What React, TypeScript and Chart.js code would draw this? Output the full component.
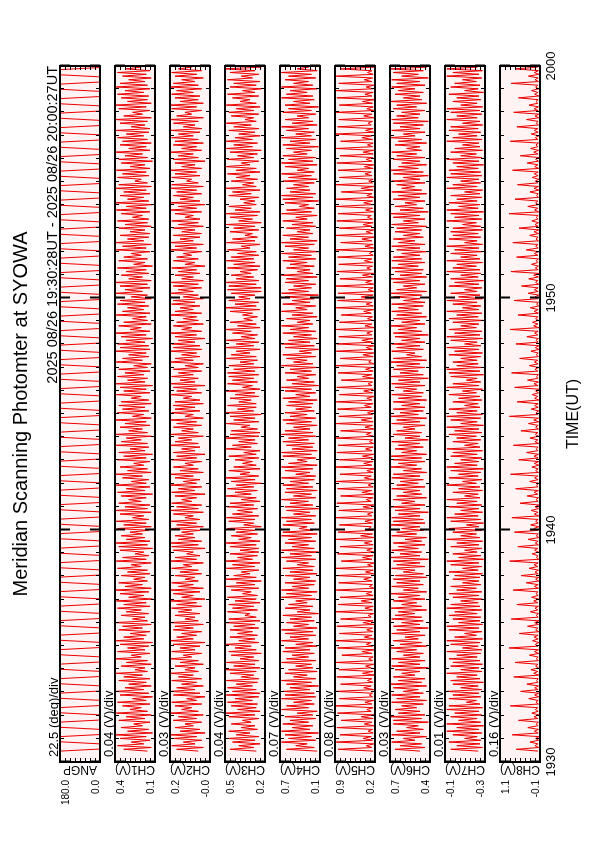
import React, { useEffect, useRef } from "react";
import { Chart, registerables } from "chart.js";
Chart.register(...registerables);

// ---------------- data ----------------
const titleText = "Meridian Scanning Photomter at SYOWA";
const subtitleText = "2025 08/26 19:30:28UT - 2025 08/26 20:00:27UT";
const timeAxisTitle = "TIME(UT)";
const timeTickLabels = ["1930", "1940", "1950", "2000"];
const timeTickMinutes = [0, 10, 20, 30];
const axisStartMin = 0;
const axisEndMin = 30;
const firstScanMin = 0.47; // 19:30:28
const halfScanMin = 0.3125; // one meridian sweep of the scanner
const sweepMin = 0.09; // duration of the moving part of a sweep
const sampleStepMin = 0.078; // photometer sample spacing

const channelNames = ["ANGP", "CH1(V)", "CH2(V)", "CH3(V)", "CH4(V)", "CH5(V)", "CH6(V)", "CH7(V)", "CH8(V)"];
const divLabels = ["22.5 (deg)/div", "0.04 (V)/div", "0.03 (V)/div", "0.04 (V)/div", "0.07 (V)/div", "0.08 (V)/div", "0.03 (V)/div", "0.01 (V)/div", "0.16 (V)/div"];
const yMins = [0, 0.08, -0.04, 0.18, 0.14, 0.22, 0.42, -0.252, -0.14];
const yMaxs = [180, 0.4, 0.2, 0.5, 0.7, 0.86, 0.66, -0.14, 1.14];
const yTopLabels = ["180.0", "0.4", "0.2", "0.5", "0.7", "0.9", "0.7", "-0.1", "1.1"];
const yBottomLabels = ["0.0", "0.1", "-0.0", "0.2", "0.1", "0.2", "0.4", "-0.3", "-0.1"];

// scan angle: [start, end] of every sweep (deg)
const angp = [
180,0,0,180,180,0,0,180,180,0,0,180,180,0,0,180,
180,0,0,180,180,0,0,180,180,0,0,180,180,0,0,180,
180,0,0,180,180,0,0,180,180,0,0,180,180,0,0,180,
180,0,0,180,180,0,0,180,180,0,0,180,180,0,0,180,
180,0,0,180,180,0,0,180,180,0,0,180,180,0,0,180,
180,0,0,180,180,0,0,180,180,0,0,180,180,0,0,180,
180,0,0,180,180,0,0,180,180,0,0,180,180,0,0,180,
180,0,0,180,180,0,0,180,180,0,0,180,180,0,0,180,
180,0,0,180,180,0,0,180,180,0,0,180,180,0,0,180,
180,0,0,180,180,0,0,180,180,0,0,180,180,0,0,180,
180,0,0,180,180,0,0,180,180,0,0,180,180,0,0,180,
180,0,0,180,180,0,0,180,180,0,0,180,180,0,0,180];

// photometer channels (V), one sample every sampleStepMin
const ch1 = [
0.14,0.33,0.11,0.38,0.17,0.27,0.12,0.36,0.15,0.40,0.10,0.30,0.13,0.35,0.18,0.25,
0.12,0.37,0.16,0.31,0.11,0.39,0.14,0.28,0.19,0.34,0.12,0.38,0.15,0.26,0.10,0.36,
0.13,0.40,0.17,0.32,0.11,0.29,0.15,0.37,0.12,0.33,0.18,0.39,0.14,0.24,0.16,0.35,
0.11,0.31,0.14,0.40,0.19,0.27,0.12,0.38,0.16,0.30,0.13,0.36,0.10,0.39,0.17,0.33,
0.15,0.28,0.12,0.37,0.18,0.34,0.11,0.40,0.14,0.26,0.16,0.35,0.13,0.31,0.19,0.38,
0.12,0.33,0.15,0.39,0.10,0.29,0.17,0.36,0.13,0.40,0.11,0.32,0.18,0.37,0.14,0.25,
0.16,0.35,0.12,0.30,0.14,0.38,0.19,0.27,0.11,0.39,0.15,0.34,0.13,0.24,0.17,0.36,
0.10,0.37,0.14,0.40,0.12,0.31,0.16,0.35,0.18,0.28,0.13,0.38,0.11,0.33,0.15,0.39,
0.13,0.26,0.17,0.36,0.11,0.40,0.14,0.32,0.12,0.37,0.19,0.29,0.15,0.35,0.10,0.38,
0.16,0.31,0.12,0.39,0.15,0.27,0.13,0.34,0.18,0.40,0.11,0.30,0.14,0.36,0.17,0.25,
0.12,0.38,0.15,0.33,0.10,0.37,0.16,0.28,0.13,0.39,0.14,0.35,0.19,0.31,0.11,0.40,
0.14,0.29,0.18,0.36,0.12,0.32,0.15,0.40,0.11,0.26,0.17,0.38,0.13,0.34,0.16,0.37,
0.11,0.35,0.13,0.27,0.19,0.39,0.12,0.33,0.15,0.36,0.10,0.40,0.16,0.30,0.14,0.38,
0.17,0.32,0.12,0.37,0.14,0.25,0.11,0.39,0.18,0.34,0.13,0.29,0.15,0.40,0.12,0.36,
0.13,0.38,0.16,0.31,0.10,0.35,0.15,0.40,0.12,0.28,0.19,0.37,0.11,0.33,0.14,0.26,
0.15,0.39,0.12,0.34,0.17,0.30,0.13,0.38,0.16,0.36,0.11,0.27,0.14,0.40,0.18,0.32,
0.12,0.36,0.14,0.40,0.11,0.29,0.18,0.35,0.13,0.31,0.15,0.38,0.10,0.25,0.16,0.37,
0.14,0.33,0.19,0.27,0.12,0.39,0.15,0.34,0.11,0.40,0.17,0.30,0.13,0.36,0.12,0.28,
0.16,0.37,0.11,0.32,0.14,0.38,0.13,0.26,0.18,0.35,0.12,0.39,0.15,0.31,0.10,0.40,
0.13,0.30,0.17,0.36,0.12,0.33,0.15,0.40,0.11,0.37,0.14,0.24,0.19,0.38,0.13,0.34,
0.15,0.39,0.12,0.28,0.16,0.35,0.10,0.37,0.14,0.32,0.18,0.40,0.12,0.29,0.15,0.36,
0.11,0.34,0.14,0.38,0.17,0.31,0.13,0.39,0.12,0.27,0.16,0.36,0.14,0.40,0.11,0.33,
0.18,0.26,0.12,0.37,0.15,0.40,0.11,0.30,0.14,0.35,0.13,0.38,0.17,0.32,0.12,0.39,
0.14,0.36,0.16,0.29,0.11,0.34,0.15,0.38,0.12,0.31,0.19,0.37,0.13,0.27,0.15,0.35];

const ch2 = [
0.03,0.16,0.00,0.19,0.05,0.12,0.01,0.18,0.04,0.20,-0.01,0.14,0.02,0.17,0.06,0.11,
0.01,0.18,0.04,0.15,0.00,0.20,0.03,0.13,0.07,0.17,0.01,0.19,0.04,0.10,-0.01,0.18,
0.02,0.20,0.05,0.16,0.00,0.13,0.04,0.19,0.01,0.15,0.06,0.20,0.03,0.11,0.05,0.17,
0.00,0.14,0.03,0.20,0.07,0.12,0.01,0.19,0.05,0.14,0.02,0.18,-0.01,0.20,0.06,0.16,
0.04,0.13,0.01,0.18,0.06,0.17,0.00,0.20,0.03,0.11,0.05,0.17,0.02,0.15,0.07,0.19,
0.01,0.16,0.04,0.20,-0.01,0.13,0.06,0.18,0.02,0.20,0.00,0.15,0.06,0.19,0.03,0.11,
0.05,0.17,0.01,0.14,0.03,0.19,0.07,0.12,0.00,0.20,0.04,0.17,0.02,0.10,0.06,0.18,
-0.01,0.19,0.03,0.20,0.01,0.15,0.05,0.17,0.06,0.13,0.02,0.19,0.00,0.16,0.04,0.20,
0.02,0.11,0.06,0.18,0.00,0.20,0.03,0.16,0.01,0.19,0.07,0.13,0.04,0.17,-0.01,0.19,
0.05,0.15,0.01,0.20,0.04,0.12,0.02,0.17,0.06,0.20,0.00,0.14,0.03,0.18,0.06,0.11,
0.01,0.19,0.04,0.16,-0.01,0.18,0.05,0.13,0.02,0.20,0.03,0.17,0.07,0.15,0.00,0.20,
0.03,0.13,0.06,0.18,0.01,0.16,0.04,0.20,0.00,0.11,0.06,0.19,0.02,0.17,0.05,0.18,
0.00,0.17,0.02,0.12,0.07,0.20,0.01,0.16,0.04,0.18,-0.01,0.20,0.05,0.14,0.03,0.19,
0.06,0.15,0.01,0.18,0.03,0.11,0.00,0.20,0.06,0.17,0.02,0.13,0.04,0.20,0.01,0.18,
0.02,0.19,0.05,0.15,-0.01,0.17,0.04,0.20,0.01,0.13,0.07,0.18,0.00,0.16,0.03,0.12,
0.04,0.20,0.01,0.17,0.06,0.14,0.02,0.19,0.05,0.18,0.00,0.12,0.03,0.20,0.06,0.15,
0.01,0.18,0.03,0.20,0.00,0.13,0.06,0.17,0.02,0.15,0.04,0.19,-0.01,0.11,0.05,0.18,
0.03,0.16,0.07,0.12,0.01,0.20,0.04,0.17,0.00,0.20,0.06,0.14,0.02,0.18,0.01,0.13,
0.05,0.18,0.00,0.15,0.03,0.19,0.02,0.11,0.06,0.17,0.01,0.20,0.04,0.15,-0.01,0.20,
0.02,0.14,0.06,0.18,0.01,0.16,0.04,0.20,0.00,0.19,0.03,0.10,0.07,0.19,0.02,0.17,
0.04,0.20,0.01,0.13,0.05,0.17,-0.01,0.18,0.03,0.15,0.06,0.20,0.01,0.13,0.04,0.18,
0.00,0.17,0.03,0.19,0.06,0.15,0.02,0.20,0.01,0.12,0.05,0.18,0.03,0.20,0.00,0.16,
0.07,0.11,0.01,0.19,0.04,0.20,0.00,0.14,0.03,0.17,0.02,0.19,0.06,0.16,0.01,0.20,
0.03,0.18,0.05,0.13,0.00,0.17,0.04,0.19,0.01,0.15,0.07,0.18,0.02,0.12,0.04,0.17];

const ch3 = [
0.25,0.46,0.27,0.39,0.22,0.44,0.26,0.48,0.23,0.41,0.30,0.47,0.24,0.37,0.26,0.45,
0.29,0.36,0.23,0.47,0.26,0.50,0.22,0.40,0.25,0.45,0.24,0.48,0.28,0.42,0.23,0.49,
0.22,0.44,0.25,0.48,0.28,0.41,0.24,0.49,0.23,0.37,0.27,0.46,0.25,0.50,0.22,0.43,
0.26,0.49,0.23,0.38,0.27,0.45,0.21,0.47,0.25,0.42,0.29,0.50,0.23,0.39,0.26,0.46,
0.24,0.40,0.28,0.46,0.23,0.43,0.26,0.50,0.22,0.47,0.25,0.34,0.30,0.48,0.24,0.44,
0.27,0.47,0.22,0.42,0.25,0.48,0.24,0.36,0.29,0.45,0.23,0.49,0.26,0.41,0.21,0.50,
0.25,0.43,0.30,0.37,0.23,0.49,0.26,0.44,0.22,0.50,0.28,0.40,0.24,0.46,0.23,0.38,
0.23,0.46,0.25,0.50,0.22,0.39,0.29,0.45,0.24,0.41,0.26,0.48,0.21,0.35,0.27,0.47,
0.26,0.49,0.23,0.44,0.28,0.40,0.24,0.48,0.27,0.46,0.22,0.37,0.25,0.50,0.29,0.42,
0.24,0.48,0.27,0.41,0.21,0.45,0.26,0.50,0.23,0.38,0.30,0.47,0.22,0.43,0.25,0.36,
0.28,0.42,0.23,0.47,0.25,0.35,0.22,0.49,0.29,0.44,0.24,0.39,0.26,0.50,0.23,0.46,
0.22,0.45,0.24,0.37,0.30,0.49,0.23,0.43,0.26,0.46,0.21,0.50,0.27,0.40,0.25,0.48,
0.25,0.39,0.29,0.46,0.23,0.42,0.26,0.50,0.22,0.36,0.28,0.48,0.24,0.44,0.27,0.47,
0.23,0.48,0.26,0.43,0.21,0.47,0.27,0.38,0.24,0.49,0.25,0.45,0.30,0.41,0.22,0.50,
0.27,0.41,0.23,0.49,0.26,0.37,0.24,0.44,0.29,0.50,0.22,0.40,0.25,0.46,0.28,0.35,
0.24,0.36,0.28,0.46,0.22,0.50,0.25,0.42,0.23,0.47,0.30,0.39,0.26,0.45,0.21,0.48,
0.21,0.47,0.25,0.50,0.23,0.41,0.27,0.45,0.29,0.38,0.24,0.48,0.22,0.43,0.26,0.49,
0.27,0.45,0.23,0.40,0.25,0.48,0.30,0.37,0.22,0.49,0.26,0.44,0.24,0.34,0.28,0.46,
0.23,0.43,0.26,0.49,0.21,0.39,0.28,0.46,0.24,0.50,0.22,0.42,0.29,0.47,0.25,0.35,
0.26,0.38,0.23,0.47,0.29,0.44,0.22,0.50,0.25,0.36,0.27,0.45,0.24,0.41,0.30,0.48,
0.22,0.41,0.25,0.50,0.30,0.37,0.23,0.48,0.27,0.40,0.24,0.46,0.21,0.49,0.28,0.43,
0.24,0.50,0.28,0.42,0.22,0.39,0.26,0.47,0.23,0.43,0.29,0.49,0.25,0.34,0.27,0.45,
0.23,0.47,0.27,0.41,0.22,0.49,0.25,0.38,0.30,0.44,0.23,0.48,0.26,0.36,0.21,0.46,
0.25,0.43,0.22,0.48,0.28,0.37,0.23,0.46,0.26,0.50,0.21,0.40,0.24,0.45,0.29,0.35];

const ch4 = [
0.18,0.61,0.22,0.48,0.32,0.68,0.20,0.58,0.26,0.63,0.16,0.68,0.28,0.53,0.24,0.66,
0.30,0.56,0.20,0.63,0.24,0.46,0.18,0.68,0.30,0.61,0.22,0.51,0.26,0.68,0.20,0.63,
0.22,0.66,0.28,0.56,0.16,0.61,0.26,0.68,0.20,0.51,0.32,0.63,0.18,0.58,0.24,0.48,
0.26,0.68,0.20,0.61,0.30,0.53,0.22,0.66,0.28,0.63,0.18,0.48,0.24,0.68,0.30,0.56,
0.20,0.63,0.24,0.68,0.18,0.51,0.30,0.61,0.22,0.56,0.26,0.66,0.16,0.46,0.28,0.63,
0.24,0.58,0.32,0.48,0.20,0.68,0.26,0.61,0.18,0.68,0.30,0.53,0.22,0.63,0.20,0.51,
0.28,0.63,0.18,0.56,0.24,0.66,0.22,0.46,0.30,0.61,0.20,0.68,0.26,0.56,0.16,0.68,
0.22,0.53,0.30,0.63,0.20,0.58,0.26,0.68,0.18,0.66,0.24,0.43,0.32,0.66,0.22,0.61,
0.26,0.68,0.20,0.51,0.28,0.61,0.16,0.63,0.24,0.56,0.30,0.68,0.20,0.51,0.26,0.63,
0.18,0.61,0.24,0.66,0.30,0.56,0.22,0.68,0.20,0.48,0.28,0.63,0.24,0.68,0.18,0.58,
0.32,0.46,0.20,0.66,0.26,0.68,0.18,0.53,0.24,0.61,0.22,0.66,0.30,0.58,0.20,0.68,
0.24,0.63,0.28,0.51,0.18,0.61,0.26,0.66,0.20,0.56,0.32,0.63,0.22,0.48,0.26,0.61,
0.24,0.58,0.18,0.66,0.28,0.48,0.20,0.63,0.26,0.68,0.16,0.53,0.22,0.61,0.30,0.46,
0.20,0.63,0.26,0.56,0.18,0.68,0.24,0.51,0.32,0.61,0.20,0.66,0.26,0.43,0.16,0.63,
0.22,0.68,0.28,0.58,0.18,0.51,0.26,0.66,0.20,0.56,0.30,0.68,0.24,0.46,0.28,0.61,
0.18,0.53,0.24,0.68,0.32,0.48,0.20,0.66,0.28,0.53,0.22,0.63,0.16,0.68,0.30,0.58,
0.26,0.51,0.20,0.63,0.30,0.61,0.18,0.68,0.24,0.46,0.28,0.61,0.22,0.56,0.32,0.66,
0.20,0.58,0.26,0.68,0.16,0.51,0.30,0.63,0.22,0.68,0.18,0.56,0.30,0.66,0.24,0.46,
0.28,0.61,0.20,0.53,0.24,0.66,0.32,0.48,0.18,0.68,0.26,0.61,0.22,0.43,0.30,0.63,
0.16,0.66,0.24,0.68,0.20,0.56,0.28,0.61,0.30,0.51,0.22,0.66,0.18,0.58,0.26,0.68,
0.22,0.46,0.30,0.63,0.18,0.68,0.24,0.58,0.20,0.66,0.32,0.51,0.26,0.61,0.16,0.66,
0.28,0.56,0.20,0.68,0.26,0.48,0.22,0.61,0.30,0.68,0.18,0.53,0.24,0.63,0.30,0.46,
0.20,0.66,0.26,0.58,0.16,0.63,0.28,0.51,0.22,0.68,0.24,0.61,0.32,0.56,0.18,0.68,
0.24,0.51,0.30,0.63,0.20,0.58,0.26,0.68,0.18,0.46,0.30,0.66,0.22,0.61,0.28,0.63];

const ch5 = [
0.25,0.81,0.27,0.36,0.24,0.84,0.26,0.41,0.28,0.78,0.25,0.33,0.26,0.83,0.24,0.39,
0.27,0.76,0.25,0.44,0.23,0.82,0.28,0.35,0.25,0.85,0.27,0.38,0.24,0.79,0.26,0.31,
0.26,0.84,0.24,0.40,0.28,0.77,0.25,0.34,0.27,0.83,0.23,0.42,0.25,0.80,0.28,0.37,
0.24,0.85,0.26,0.32,0.25,0.75,0.27,0.43,0.23,0.82,0.26,0.36,0.28,0.84,0.24,0.39,
0.27,0.79,0.25,0.35,0.26,0.83,0.24,0.41,0.25,0.77,0.28,0.33,0.24,0.85,0.26,0.38,
0.25,0.81,0.27,0.44,0.24,0.78,0.25,0.36,0.27,0.84,0.24,0.31,0.26,0.80,0.27,0.40,
0.28,0.83,0.24,0.37,0.25,0.85,0.26,0.34,0.23,0.76,0.27,0.42,0.25,0.82,0.24,0.35,
0.26,0.78,0.25,0.39,0.27,0.84,0.23,0.45,0.26,0.81,0.25,0.32,0.28,0.79,0.26,0.38,
0.24,0.85,0.27,0.34,0.25,0.80,0.26,0.41,0.24,0.83,0.28,0.36,0.25,0.77,0.24,0.43,
0.27,0.82,0.25,0.33,0.26,0.84,0.24,0.39,0.28,0.78,0.25,0.35,0.23,0.85,0.27,0.40,
0.25,0.79,0.26,0.42,0.24,0.83,0.27,0.37,0.25,0.81,0.24,0.31,0.26,0.84,0.25,0.36,
0.28,0.77,0.24,0.38,0.26,0.85,0.25,0.44,0.27,0.80,0.26,0.34,0.24,0.82,0.28,0.39,
0.25,0.84,0.27,0.35,0.23,0.79,0.26,0.40,0.25,0.83,0.27,0.33,0.26,0.76,0.24,0.42,
0.27,0.81,0.25,0.37,0.26,0.85,0.24,0.32,0.28,0.78,0.25,0.41,0.24,0.84,0.26,0.36,
0.24,0.83,0.26,0.43,0.25,0.80,0.27,0.35,0.26,0.85,0.23,0.38,0.27,0.79,0.25,0.34,
0.26,0.76,0.28,0.40,0.24,0.84,0.25,0.36,0.27,0.82,0.26,0.44,0.25,0.81,0.24,0.33,
0.25,0.85,0.24,0.37,0.27,0.78,0.26,0.42,0.24,0.83,0.28,0.35,0.26,0.80,0.25,0.39,
0.27,0.82,0.25,0.31,0.26,0.84,0.24,0.38,0.25,0.77,0.27,0.43,0.23,0.85,0.26,0.36,
0.24,0.79,0.27,0.41,0.25,0.83,0.26,0.34,0.28,0.81,0.24,0.37,0.26,0.84,0.25,0.40,
0.26,0.84,0.24,0.35,0.27,0.76,0.25,0.44,0.24,0.85,0.26,0.32,0.25,0.79,0.27,0.38,
0.28,0.81,0.25,0.39,0.24,0.83,0.27,0.36,0.26,0.78,0.25,0.41,0.24,0.84,0.26,0.34,
0.25,0.77,0.26,0.43,0.27,0.85,0.24,0.37,0.25,0.82,0.28,0.33,0.26,0.80,0.24,0.40,
0.27,0.84,0.24,0.35,0.25,0.79,0.26,0.42,0.23,0.83,0.27,0.38,0.25,0.85,0.26,0.36,
0.24,0.80,0.27,0.39,0.26,0.84,0.25,0.34,0.27,0.77,0.24,0.41,0.26,0.82,0.25,0.37];

const ch6 = [
0.48,0.63,0.45,0.60,0.47,0.65,0.51,0.58,0.44,0.65,0.48,0.62,0.46,0.56,0.49,0.64,
0.43,0.64,0.47,0.66,0.45,0.61,0.48,0.63,0.50,0.59,0.46,0.65,0.44,0.62,0.48,0.65,
0.46,0.58,0.49,0.64,0.44,0.66,0.47,0.61,0.45,0.64,0.51,0.59,0.48,0.63,0.43,0.65,
0.48,0.61,0.45,0.65,0.48,0.58,0.46,0.62,0.50,0.66,0.44,0.60,0.47,0.64,0.49,0.57,
0.45,0.65,0.48,0.62,0.43,0.64,0.48,0.59,0.46,0.65,0.47,0.63,0.51,0.61,0.44,0.66,
0.47,0.59,0.50,0.64,0.45,0.61,0.48,0.66,0.44,0.58,0.49,0.65,0.46,0.62,0.48,0.64,
0.44,0.63,0.46,0.58,0.51,0.65,0.45,0.62,0.48,0.64,0.43,0.66,0.48,0.60,0.47,0.65,
0.49,0.61,0.45,0.64,0.47,0.57,0.44,0.65,0.50,0.62,0.46,0.59,0.48,0.66,0.45,0.64,
0.46,0.65,0.48,0.61,0.43,0.63,0.48,0.66,0.45,0.59,0.51,0.64,0.44,0.62,0.47,0.58,
0.48,0.65,0.45,0.62,0.49,0.60,0.46,0.65,0.48,0.64,0.44,0.58,0.47,0.66,0.50,0.61,
0.45,0.64,0.47,0.66,0.44,0.59,0.50,0.63,0.46,0.61,0.48,0.65,0.43,0.57,0.48,0.64,
0.47,0.62,0.51,0.58,0.45,0.65,0.48,0.62,0.44,0.66,0.49,0.60,0.46,0.64,0.45,0.59,
0.48,0.64,0.44,0.61,0.47,0.65,0.46,0.58,0.50,0.63,0.45,0.65,0.48,0.61,0.43,0.66,
0.46,0.60,0.49,0.64,0.45,0.62,0.48,0.66,0.44,0.64,0.47,0.56,0.51,0.65,0.46,0.62,
0.48,0.65,0.45,0.59,0.48,0.63,0.43,0.64,0.47,0.61,0.50,0.66,0.45,0.59,0.48,0.64,
0.44,0.62,0.47,0.65,0.49,0.61,0.46,0.65,0.45,0.58,0.48,0.64,0.47,0.66,0.44,0.62,
0.50,0.58,0.45,0.64,0.48,0.66,0.44,0.60,0.47,0.63,0.46,0.65,0.49,0.61,0.45,0.65,
0.47,0.64,0.48,0.59,0.44,0.62,0.48,0.65,0.45,0.61,0.51,0.64,0.46,0.58,0.48,0.63,
0.47,0.62,0.44,0.65,0.49,0.58,0.45,0.64,0.48,0.66,0.43,0.60,0.46,0.63,0.50,0.57,
0.45,0.64,0.48,0.61,0.44,0.65,0.47,0.59,0.51,0.62,0.45,0.65,0.48,0.58,0.43,0.64,
0.46,0.66,0.49,0.61,0.44,0.59,0.48,0.64,0.45,0.62,0.50,0.65,0.47,0.56,0.48,0.63,
0.44,0.61,0.47,0.66,0.51,0.58,0.45,0.65,0.48,0.60,0.46,0.64,0.43,0.65,0.49,0.62,
0.48,0.59,0.45,0.64,0.50,0.62,0.44,0.66,0.47,0.58,0.48,0.63,0.46,0.61,0.51,0.65,
0.45,0.62,0.48,0.65,0.43,0.59,0.49,0.64,0.46,0.66,0.44,0.61,0.50,0.64,0.47,0.57];

const ch7 = [
-0.233,-0.156,-0.245,-0.173,-0.238,-0.151,-0.240,-0.195,-0.230,-0.162,-0.243,-0.145,-0.235,-0.173,-0.248,-0.145,
-0.240,-0.178,-0.230,-0.156,-0.243,-0.167,-0.235,-0.145,-0.245,-0.151,-0.238,-0.200,-0.228,-0.151,-0.240,-0.162,
-0.235,-0.145,-0.243,-0.184,-0.233,-0.162,-0.248,-0.156,-0.238,-0.173,-0.230,-0.145,-0.243,-0.184,-0.235,-0.156,
-0.245,-0.162,-0.238,-0.151,-0.230,-0.173,-0.240,-0.145,-0.243,-0.189,-0.233,-0.156,-0.238,-0.145,-0.245,-0.167,
-0.228,-0.195,-0.243,-0.151,-0.235,-0.145,-0.245,-0.178,-0.238,-0.162,-0.240,-0.151,-0.230,-0.167,-0.243,-0.145,
-0.238,-0.156,-0.233,-0.184,-0.245,-0.162,-0.235,-0.151,-0.243,-0.173,-0.228,-0.156,-0.240,-0.189,-0.235,-0.162,
-0.238,-0.167,-0.245,-0.151,-0.233,-0.189,-0.243,-0.156,-0.235,-0.145,-0.248,-0.178,-0.240,-0.162,-0.230,-0.195,
-0.243,-0.156,-0.235,-0.173,-0.245,-0.145,-0.238,-0.184,-0.228,-0.162,-0.243,-0.151,-0.235,-0.200,-0.248,-0.156,
-0.240,-0.145,-0.233,-0.167,-0.245,-0.184,-0.235,-0.151,-0.243,-0.173,-0.230,-0.145,-0.238,-0.195,-0.233,-0.162,
-0.245,-0.178,-0.238,-0.145,-0.228,-0.189,-0.243,-0.151,-0.233,-0.178,-0.240,-0.156,-0.248,-0.145,-0.230,-0.167,
-0.235,-0.184,-0.243,-0.156,-0.230,-0.162,-0.245,-0.145,-0.238,-0.195,-0.233,-0.162,-0.240,-0.173,-0.228,-0.151,
-0.243,-0.167,-0.235,-0.145,-0.248,-0.184,-0.230,-0.156,-0.240,-0.145,-0.245,-0.173,-0.230,-0.151,-0.238,-0.195,
-0.233,-0.162,-0.243,-0.178,-0.238,-0.151,-0.228,-0.189,-0.245,-0.145,-0.235,-0.162,-0.240,-0.200,-0.230,-0.156,
-0.248,-0.151,-0.238,-0.145,-0.243,-0.173,-0.233,-0.162,-0.230,-0.184,-0.240,-0.151,-0.245,-0.167,-0.235,-0.145,
-0.240,-0.195,-0.230,-0.156,-0.245,-0.145,-0.238,-0.167,-0.243,-0.151,-0.228,-0.184,-0.235,-0.162,-0.248,-0.151,
-0.233,-0.173,-0.243,-0.145,-0.235,-0.189,-0.240,-0.162,-0.230,-0.145,-0.245,-0.178,-0.238,-0.156,-0.230,-0.195,
-0.243,-0.151,-0.235,-0.167,-0.248,-0.156,-0.233,-0.184,-0.240,-0.145,-0.238,-0.162,-0.228,-0.173,-0.245,-0.145,
-0.238,-0.184,-0.230,-0.156,-0.243,-0.167,-0.235,-0.145,-0.245,-0.195,-0.230,-0.151,-0.240,-0.162,-0.233,-0.156,
-0.245,-0.162,-0.240,-0.189,-0.228,-0.145,-0.243,-0.167,-0.235,-0.156,-0.248,-0.145,-0.233,-0.178,-0.238,-0.151,
-0.230,-0.173,-0.243,-0.156,-0.238,-0.195,-0.245,-0.145,-0.230,-0.162,-0.240,-0.184,-0.235,-0.145,-0.243,-0.156,
-0.240,-0.151,-0.233,-0.173,-0.248,-0.162,-0.235,-0.145,-0.243,-0.184,-0.228,-0.156,-0.245,-0.167,-0.238,-0.189,
-0.235,-0.145,-0.243,-0.162,-0.230,-0.178,-0.240,-0.151,-0.233,-0.156,-0.245,-0.189,-0.238,-0.145,-0.230,-0.173,
-0.243,-0.156,-0.238,-0.145,-0.245,-0.184,-0.230,-0.162,-0.240,-0.173,-0.235,-0.151,-0.248,-0.195,-0.233,-0.156,
-0.238,-0.167,-0.228,-0.189,-0.243,-0.145,-0.235,-0.162,-0.245,-0.145,-0.230,-0.178,-0.240,-0.156,-0.243,-0.184];

const ch8 = [
-0.08,0.62,-0.10,0.02,-0.07,0.18,-0.09,0.00,-0.10,0.75,-0.08,0.04,-0.09,0.25,-0.07,-0.02,
-0.09,0.55,-0.07,0.05,-0.10,0.12,-0.08,0.01,-0.07,0.81,-0.09,-0.01,-0.08,0.22,-0.10,0.03,
-0.10,0.48,-0.08,0.03,-0.09,0.28,-0.07,-0.03,-0.08,0.70,-0.10,0.06,-0.07,0.15,-0.09,0.00,
-0.07,0.66,-0.09,-0.02,-0.08,0.20,-0.10,0.04,-0.09,0.85,-0.07,0.01,-0.10,0.10,-0.08,0.05,
-0.08,0.52,-0.10,0.00,-0.07,0.26,-0.09,0.03,-0.10,0.78,-0.08,-0.02,-0.09,0.17,-0.07,0.02,
-0.09,0.60,-0.07,0.06,-0.10,0.13,-0.08,-0.01,-0.07,0.72,-0.09,0.04,-0.08,0.30,-0.10,0.00,
-0.10,0.46,-0.08,0.02,-0.09,0.21,-0.07,0.05,-0.08,0.83,-0.10,-0.03,-0.07,0.11,-0.09,0.03,
-0.07,0.57,-0.09,0.01,-0.08,0.24,-0.10,-0.02,-0.09,0.68,-0.07,0.06,-0.10,0.16,-0.08,0.00,
-0.08,0.76,-0.10,0.04,-0.07,0.14,-0.09,0.02,-0.10,0.50,-0.08,-0.01,-0.09,0.27,-0.07,0.05,
-0.09,0.64,-0.07,-0.03,-0.10,0.19,-0.08,0.03,-0.07,0.80,-0.09,0.00,-0.08,0.12,-0.10,0.04,
-0.10,0.54,-0.08,0.05,-0.09,0.29,-0.07,-0.02,-0.08,0.71,-0.10,0.02,-0.07,0.18,-0.09,0.01,
-0.07,0.47,-0.09,0.00,-0.08,0.23,-0.10,0.06,-0.09,0.84,-0.07,-0.01,-0.10,0.14,-0.08,0.03,
-0.08,0.59,-0.10,0.03,-0.07,0.11,-0.09,0.00,-0.10,0.67,-0.08,0.05,-0.09,0.26,-0.07,-0.03,
-0.09,0.77,-0.07,0.02,-0.10,0.20,-0.08,0.04,-0.07,0.51,-0.09,-0.02,-0.08,0.15,-0.10,0.01,
-0.10,0.63,-0.08,-0.01,-0.09,0.28,-0.07,0.03,-0.08,0.82,-0.10,0.06,-0.07,0.10,-0.09,0.00,
-0.07,0.56,-0.09,0.05,-0.08,0.17,-0.10,-0.03,-0.09,0.69,-0.07,0.02,-0.10,0.24,-0.08,0.04,
-0.08,0.45,-0.10,0.00,-0.07,0.22,-0.09,0.06,-0.10,0.79,-0.08,0.01,-0.09,0.13,-0.07,-0.02,
-0.09,0.61,-0.07,0.04,-0.10,0.30,-0.08,0.00,-0.07,0.73,-0.09,-0.01,-0.08,0.19,-0.10,0.05,
-0.10,0.53,-0.08,0.02,-0.09,0.12,-0.07,-0.02,-0.08,0.85,-0.10,0.03,-0.07,0.25,-0.09,0.00,
-0.07,0.66,-0.09,-0.03,-0.08,0.18,-0.10,0.05,-0.09,0.58,-0.07,0.01,-0.10,0.11,-0.08,0.04,
-0.08,0.74,-0.10,0.03,-0.07,0.27,-0.09,0.00,-0.10,0.49,-0.08,0.06,-0.09,0.16,-0.07,-0.01,
-0.09,0.81,-0.07,0.01,-0.10,0.14,-0.08,0.04,-0.07,0.60,-0.09,-0.02,-0.08,0.29,-0.10,0.02,
-0.10,0.70,-0.08,0.05,-0.09,0.21,-0.07,-0.01,-0.08,0.55,-0.10,0.03,-0.07,0.13,-0.09,0.00,
-0.07,0.78,-0.09,0.02,-0.08,0.23,-0.10,0.04,-0.09,0.64,-0.07,-0.03,-0.10,0.17,-0.08,0.01];

const seriesList = [angp, ch1, ch2, ch3, ch4, ch5, ch6, ch7, ch8];

// ---------------- layout / style ----------------
const CANVAS_W = 842;
const CANVAS_H = 595;
const PLOT_LEFT = 80;
const PLOT_RIGHT = 776;
const PANEL_TOP = 60;
const PANEL_H = 40;
const PANEL_GAP = 15;
const TRACE = "#ec0000";
const PANEL_BG = "#fff3f3";
const FONT = '"Liberation Sans", Arial, Helvetica, sans-serif';

// point table the line dataset needs
function buildPoints(k: number) {
  const vals = seriesList[k];
  const pts: { x: number; y: number }[] = [];
  if (k === 0) {
    for (let s = 0; s * 2 + 1 < vals.length; s++) {
      const t0 = firstScanMin + s * halfScanMin;
      pts.push({ x: t0, y: vals[2 * s] });
      pts.push({ x: t0 + sweepMin, y: vals[2 * s + 1] });
    }
  } else {
    vals.forEach((v, i) => pts.push({ x: firstScanMin + i * sampleStepMin, y: v }));
  }
  return pts;
}

function makeDecor(k: number) {
  return {
    id: "panelDecor" + k,
    beforeDatasetsDraw(chart: any) {
      const { ctx, chartArea: a } = chart;
      ctx.save();
      ctx.fillStyle = PANEL_BG;
      ctx.fillRect(a.left, a.top, a.right - a.left, a.bottom - a.top);
      ctx.restore();
    },
    afterDatasetsDraw(chart: any) {
      const { ctx, chartArea: a, scales } = chart;
      const xs = scales.x;
      const ys = scales.y;
      const seg = (x1: number, y1: number, x2: number, y2: number) => {
        ctx.beginPath();
        ctx.moveTo(x1, y1);
        ctx.lineTo(x2, y2);
        ctx.stroke();
      };
      ctx.save();
      ctx.strokeStyle = "#000";
      ctx.lineWidth = 1;
      for (let j = 1; j < 8; j++) {
        const v = yMins[k] + ((yMaxs[k] - yMins[k]) * j) / 8;
        const py = Math.round(ys.getPixelForValue(v)) + 0.5;
        seg(a.left, py, a.left + 4, py);
        seg(a.right - 4, py, a.right, py);
      }
      for (let m = axisStartMin; m <= axisEndMin; m++) {
        const px = Math.round(xs.getPixelForValue(m)) + 0.5;
        const major = m % 10 === 0;
        ctx.lineWidth = major ? 2 : 1;
        const len = major ? 10 : 4;
        seg(px, a.top, px, a.top + len);
        seg(px, a.bottom - len, px, a.bottom);
      }
      ctx.lineWidth = 2;
      ctx.strokeRect(a.left, a.top, a.right - a.left, a.bottom - a.top);

      ctx.fillStyle = "#000";
      ctx.font = "10px " + FONT;
      ctx.textAlign = "right";
      ctx.textBaseline = "top";
      ctx.fillText(yTopLabels[k], a.left - 18, a.top + 1);
      ctx.textBaseline = "bottom";
      ctx.fillText(yBottomLabels[k], a.left - 18, a.bottom + 1);
      ctx.save();
      ctx.font = "12px " + FONT;
      ctx.translate(a.left - 4, (a.top + a.bottom) / 2);
      ctx.rotate(-Math.PI / 2);
      ctx.textAlign = "center";
      ctx.textBaseline = "alphabetic";
      ctx.fillText(channelNames[k], 0, 0);
      ctx.restore();
      ctx.font = "13px " + FONT;
      ctx.textAlign = "left";
      ctx.textBaseline = "alphabetic";
      ctx.fillText(divLabels[k], a.left + 5, a.top - 2);

      if (k === 0) {
        ctx.font = "20px " + FONT;
        ctx.textAlign = "center";
        ctx.fillText(titleText, (a.left + a.right) / 2, 27);
        ctx.font = "14.5px " + FONT;
        ctx.textAlign = "right";
        ctx.fillText(subtitleText, a.right, a.top - 3);
      }
      if (k === seriesList.length - 1) {
        ctx.font = "13px " + FONT;
        ctx.textAlign = "center";
        timeTickMinutes.forEach((m, i) => {
          ctx.fillText(timeTickLabels[i], xs.getPixelForValue(m), a.bottom + 15);
        });
        ctx.font = "16px " + FONT;
        ctx.fillText(timeAxisTitle, (a.left + a.right) / 2, a.bottom + 38);
      }
      ctx.restore();
    },
  };
}

function Panel({ index }: { index: number }) {
  const ref = useRef<HTMLCanvasElement>(null);
  useEffect(() => {
    if (!ref.current) return;
    const top = PANEL_TOP + index * (PANEL_H + PANEL_GAP);
    const bottom = top + PANEL_H;
    const chart = new Chart(ref.current, {
      type: "line",
      data: {
        datasets: [
          {
            data: buildPoints(index),
            borderColor: TRACE,
            borderWidth: 1,
            pointRadius: 0,
            tension: 0,
            fill: false,
          },
        ],
      },
      options: {
        responsive: false,
        animation: false,
        devicePixelRatio: 1,
        events: [],
        layout: {
          padding: { left: PLOT_LEFT, right: CANVAS_W - PLOT_RIGHT, top, bottom: CANVAS_H - bottom },
        },
        scales: {
          x: { type: "linear", min: axisStartMin, max: axisEndMin, display: false },
          y: { type: "linear", min: yMins[index], max: yMaxs[index], display: false },
        },
        plugins: {
          legend: { display: false },
          tooltip: { enabled: false },
          title: { display: false },
        },
      } as any,
      plugins: [makeDecor(index)],
    });
    return () => chart.destroy();
  }, [index]);
  return (
    <canvas
      ref={ref}
      width={CANVAS_W}
      height={CANVAS_H}
      style={{ position: "absolute", left: 0, top: 0, width: CANVAS_W, height: CANVAS_H }}
    />
  );
}

export default function App() {
  useEffect(() => {
    document.documentElement.style.overflow = "hidden";
    document.body.style.overflow = "hidden";
  }, []);
  return (
    <div
      style={{
        position: "absolute",
        left: 0,
        top: 0,
        width: CANVAS_W,
        height: CANVAS_H,
        background: "#fff",
        transformOrigin: "0 0",
        transform: `translate(0px, ${CANVAS_W}px) rotate(-90deg)`,
      }}
    >
      {seriesList.map((_, i) => (
        <Panel key={i} index={i} />
      ))}
    </div>
  );
}
